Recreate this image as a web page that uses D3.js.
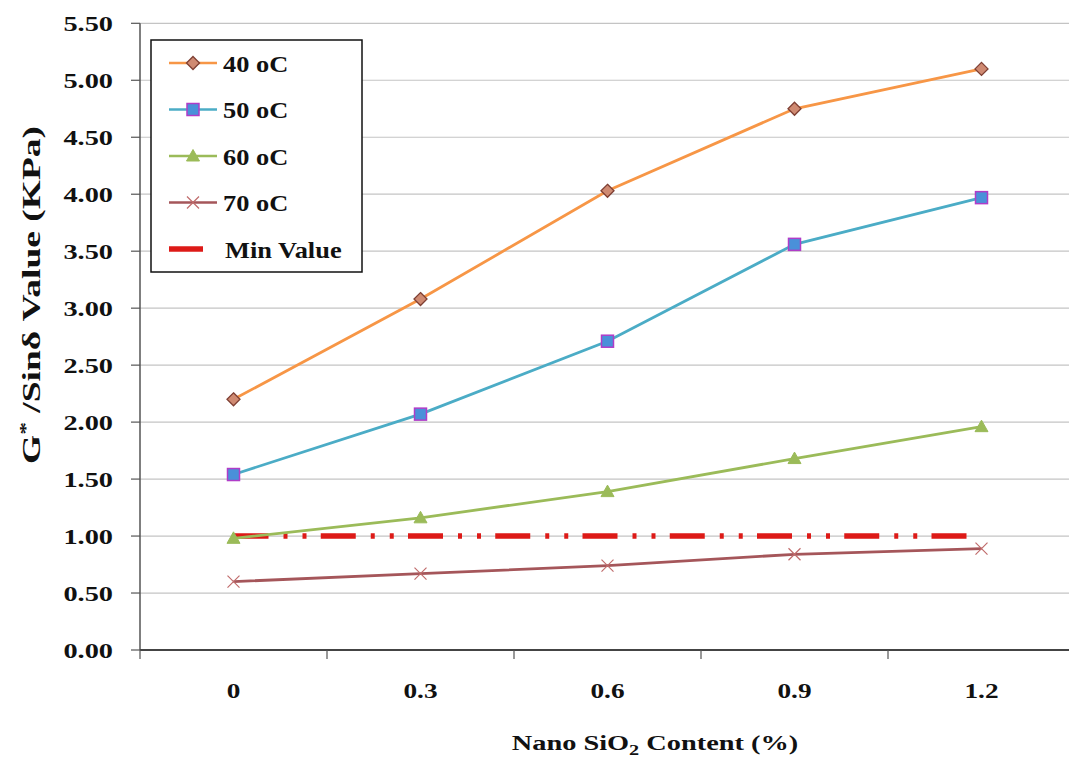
<!DOCTYPE html>
<html><head><meta charset="utf-8">
<script src="https://cdn.jsdelivr.net/npm/d3@7"></script>
<style>
body{margin:0;background:#fff;}
text{font-family:"Liberation Serif","Times New Roman",serif;font-weight:bold;fill:#111;}
</style></head>
<body><svg id="chart" width="1069" height="760"></svg>
<script>
const categories = ["0","0.3","0.6","0.9","1.2"];
const s40 = [2.20, 3.08, 4.03, 4.75, 5.10];
const s50 = [1.54, 2.07, 2.71, 3.56, 3.97];
const s60 = [0.98, 1.16, 1.39, 1.68, 1.96];
const s70 = [0.60, 0.67, 0.74, 0.84, 0.89];
const minValue = [1.00, 1.00, 1.00, 1.00, 1.00];
const seriesNames = ["40 oC","50 oC","60 oC","70 oC","Min Value"];
const yTicks = [0,0.5,1,1.5,2,2.5,3,3.5,4,4.5,5,5.5];

const svg = d3.select("#chart");
const x = d3.scaleBand().domain(categories).range([140,1075]).padding(0);
const y = d3.scaleLinear().domain([0,5.5]).range([650,23.3]);
const cx = c => x(c) + x.bandwidth()/2;

function stext(g, tx, ty, str, anchor, size, sx){
  return g.append("text").attr("transform",`translate(${tx},${ty}) scale(${sx},1)`)
    .attr("text-anchor",anchor).style("font-size",size+"px").text(str);
}

// gridlines
svg.append("g").selectAll("line").data(yTicks.filter(d=>d>0)).join("line")
  .attr("x1",140).attr("x2",1069).attr("y1",d=>y(d)).attr("y2",d=>y(d))
  .attr("stroke","#c4c4c4").attr("stroke-width",1.2);

// y axis
const ya = svg.append("g");
ya.append("line").attr("x1",140).attr("x2",140).attr("y1",y(5.5)).attr("y2",y(0)).attr("stroke","#555").attr("stroke-width",1.5);
yTicks.forEach(v=>{
  ya.append("line").attr("x1",131).attr("x2",140).attr("y1",y(v)).attr("y2",y(v)).attr("stroke","#555").attr("stroke-width",1.2);
  stext(ya,113,y(v)+7.5,d3.format(".2f")(v),"end",21,1.35);
});

// x axis
const xa = svg.append("g");
xa.append("line").attr("x1",140).attr("x2",1069).attr("y1",y(0)).attr("y2",y(0)).attr("stroke","#444").attr("stroke-width",1.8);
categories.forEach(c=>{
  xa.append("line").attr("x1",x(c)).attr("x2",x(c)).attr("y1",y(0)).attr("y2",y(0)+9).attr("stroke","#555").attr("stroke-width",1.2);
  stext(xa,cx(c),698,c,"middle",21,1.3);
});

// axis titles
const xt = stext(svg,655,750,"","middle",21,1.35);
xt.append("tspan").text("Nano SiO");
xt.append("tspan").attr("dy",5).style("font-size","15px").text("2");
xt.append("tspan").attr("dy",-5).text(" Content (%)");

const yt = svg.append("text").attr("transform",`translate(40,295) rotate(-90) scale(1.5,1)`).attr("text-anchor","middle").style("font-size","25px");
yt.append("tspan").text("G");
yt.append("tspan").attr("dy",-9).style("font-size","17px").text("*");
yt.append("tspan").attr("dy",9).text(" /Sinδ Value (KPa)");

const line = d3.line().x((d,i)=>cx(categories[i])).y(d=>y(d));

const styles = [
  {data:s40, stroke:"#F79646", marker:"diamond", fill:"#CF8A72", mstroke:"#7E3F33"},
  {data:s50, stroke:"#4BACC6", marker:"square", fill:"#4A90D9", mstroke:"#B03CC8"},
  {data:s60, stroke:"#9BBB59", marker:"triangle", fill:"#9BBB59", mstroke:"#9BBB59"},
  {data:s70, stroke:"#A5565A", marker:"x", fill:"none", mstroke:"#C06C6C"}
];

function drawMarker(g, type, px, py, st){
  if(type==="diamond"){
    g.append("path").attr("d",`M${px},${py-6.5}L${px+6.5},${py}L${px},${py+6.5}L${px-6.5},${py}Z`).attr("fill",st.fill).attr("stroke",st.mstroke).attr("stroke-width",1.3);
  } else if(type==="square"){
    g.append("rect").attr("x",px-6).attr("y",py-6).attr("width",12).attr("height",12).attr("fill",st.fill).attr("stroke",st.mstroke).attr("stroke-width",1.5);
  } else if(type==="triangle"){
    g.append("path").attr("d",`M${px},${py-6.5}L${px+6.5},${py+5}L${px-6.5},${py+5}Z`).attr("fill",st.fill).attr("stroke",st.mstroke).attr("stroke-width",1);
  } else {
    g.append("path").attr("d",`M${px-6},${py-6}L${px+6},${py+6}M${px-6},${py+6}L${px+6},${py-6}`).attr("stroke",st.mstroke).attr("stroke-width",1.2).attr("fill","none");
  }
}

// min line
svg.append("path").datum(minValue).attr("d",line).attr("fill","none")
  .attr("stroke","#DD1A17").attr("stroke-width",5.5).attr("stroke-dasharray","35,15,4,15,4,14.25");

styles.slice().reverse().forEach(st=>{
  const g = svg.append("g");
  g.append("path").datum(st.data).attr("d",line).attr("fill","none").attr("stroke",st.stroke).attr("stroke-width",2.8);
  st.data.forEach((v,i)=>drawMarker(g, st.marker, cx(categories[i]), y(v), st));
});

// legend
const lg = svg.append("g");
lg.append("rect").attr("x",151).attr("y",40).attr("width",211).attr("height",232).attr("fill","#fff").attr("stroke","#111").attr("stroke-width",1.5);
seriesNames.forEach((n,i)=>{
  const ly = 63 + i*46.5;
  if(i<4){
    const st = styles[i];
    lg.append("line").attr("x1",169).attr("x2",217).attr("y1",ly).attr("y2",ly).attr("stroke",st.stroke).attr("stroke-width",2.6);
    drawMarker(lg, st.marker, 193, ly, st);
    stext(lg,223,ly+8.5,n,"start",24,1.1);
  } else {
    lg.append("line").attr("x1",169).attr("x2",203).attr("y1",ly).attr("y2",ly).attr("stroke","#DD1A17").attr("stroke-width",5.5);
    stext(lg,225,ly+8.5,n,"start",24,1.1);
  }
});
</script></body></html>
